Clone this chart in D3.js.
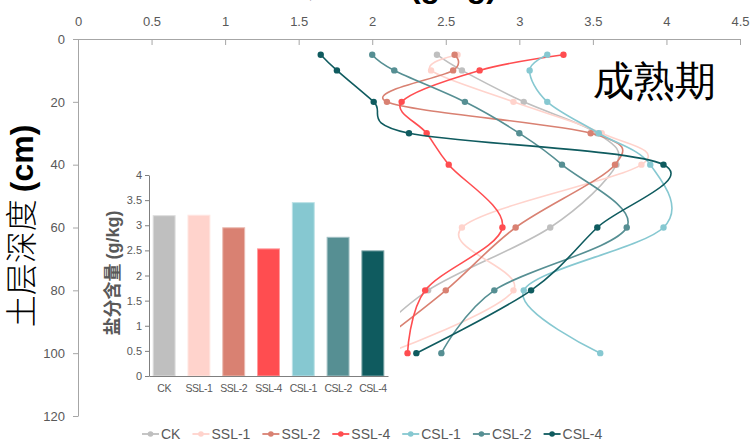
<!DOCTYPE html>
<html>
<head>
<meta charset="utf-8">
<script src="https://cdn.jsdelivr.net/npm/d3@7"></script>
<style>
  body { margin: 0; background: #fff; }
  text { font-family: "Liberation Sans", Arial, sans-serif; }
</style>
</head>
<body>
<svg id="chart" width="756" height="440"></svg>
<script>
// Soil depth of each sampling layer (cm)
const depths = [5, 10, 20, 30, 40, 60, 80, 100];

// Salt content (g/kg) per treatment at each depth
const ck   = [2.44, 2.61, 3.03, 3.53, 3.66, 3.21, 2.38, 1.90];
const ssl1 = [2.58, 2.40, 2.96, 3.56, 3.83, 2.61, 2.96, 2.10];
const ssl2 = [2.56, 2.55, 2.10, 3.485, 3.65, 2.975, 2.50, 1.95];
const ssl4 = [3.30, 2.73, 2.20, 2.37, 2.52, 2.885, 2.36, 2.24];
const csl1 = [3.19, 3.07, 3.19, 3.54, 3.89, 3.98, 3.03, 3.55];
const csl2 = [2.00, 2.15, 2.63, 3.00, 3.29, 3.73, 2.83, 2.47];
const csl4 = [1.65, 1.76, 2.01, 2.25, 3.98, 3.53, 3.08, 2.30];

const seriesNames  = ["CK", "SSL-1", "SSL-2", "SSL-4", "CSL-1", "CSL-2", "CSL-4"];
const seriesColors = ["#bfbfbf", "#ffd3cc", "#d98172", "#ff4d50", "#86c8d1", "#568f93", "#0f5b5f"];

// Mean salt content of the profile (g/kg) for the inset bars
const barValues = [3.19, 3.20, 2.95, 2.53, 3.45, 2.76, 2.49];

const xTicks   = [0, 0.5, 1, 1.5, 2, 2.5, 3, 3.5, 4, 4.5];
const yTicks   = [0, 20, 40, 60, 80, 100, 120];
const barTicks = [0, 0.5, 1, 1.5, 2, 2.5, 3, 3.5, 4];

const seriesValues = [ck, ssl1, ssl2, ssl4, csl1, csl2, csl4];
const series = seriesNames.map((name, i) => ({
  name,
  color: seriesColors[i],
  points: depths.map((d, j) => ({ depth: d, value: seriesValues[i][j] }))
}));

const svg = d3.select("#chart");
const axisColor = "#a6a6a6";
const labelColor = "#595959";

// ---- main profile chart ----
const x = d3.scaleLinear().domain([0, 4.5]).range([78, 740]);
const y = d3.scaleLinear().domain([0, 120]).range([39, 416]);

// title above the top axis (runs past the top edge of the canvas)
const title = svg.append("text")
  .attr("x", 497).attr("y", -3)
  .attr("text-anchor", "end")
  .attr("font-size", 32)
  .attr("fill", "#000");
title.append("tspan").attr("font-family", "'Noto Sans CJK SC', sans-serif").text("盐分含量 ");
title.append("tspan").attr("font-weight", "bold").text("(g/kg)");

const lineGen = d3.line()
  .x(d => x(d.value))
  .y(d => y(d.depth))
  .curve(d3.curveCardinal.tension(0));

const gSeries = svg.append("g");
series.forEach(s => {
  const g = gSeries.append("g");
  g.append("path")
    .attr("d", lineGen(s.points))
    .attr("fill", "none")
    .attr("stroke", s.color)
    .attr("stroke-width", 1.6);
  g.selectAll("circle").data(s.points).join("circle")
    .attr("cx", d => x(d.value))
    .attr("cy", d => y(d.depth))
    .attr("r", 3.2)
    .attr("fill", s.color);
});

// top value axis
const xAxis = svg.append("g")
  .attr("transform", "translate(0,39)")
  .call(d3.axisTop(x).tickValues(xTicks).tickSize(-6).tickSizeOuter(0).tickPadding(13)
    .tickFormat(d3.format("~g")));
// left depth axis
const yAxis = svg.append("g")
  .attr("transform", "translate(78,0)")
  .call(d3.axisLeft(y).tickValues(yTicks).tickSize(5).tickSizeOuter(0).tickPadding(8));

[xAxis, yAxis].forEach(a => {
  a.select(".domain").attr("stroke", axisColor);
  a.selectAll(".tick line").attr("stroke", axisColor);
  a.selectAll(".tick text").attr("fill", labelColor).attr("font-size", 13)
    .attr("font-family", "'Liberation Sans', Arial, sans-serif");
});

// depth axis title
const yTitle = svg.append("text")
  .attr("transform", "translate(33,226) rotate(-90)")
  .attr("text-anchor", "middle")
  .attr("font-size", 32)
  .attr("fill", "#000");
yTitle.append("tspan").attr("font-family", "'Noto Sans CJK SC', sans-serif").attr("font-weight", 300).text("土层深度 ");
yTitle.append("tspan").attr("font-weight", "bold").text("(cm)");

// growth stage label
svg.append("text")
  .attr("x", 654).attr("y", 95)
  .attr("text-anchor", "middle")
  .attr("font-family", "'Noto Sans CJK SC', sans-serif")
  .attr("font-size", 41)
  .attr("fill", "#000")
  .text("成熟期");

// ---- inset bar chart ----
const inset = svg.append("g");
inset.append("rect")
  .attr("x", 92).attr("y", 160).attr("width", 308).attr("height", 242)
  .attr("fill", "#fff");

const xb = d3.scaleBand().domain(seriesNames).range([149, 388])
  .paddingInner(0.37).paddingOuter(0.12);
const yb = d3.scaleLinear().domain([0, 4]).range([376, 175]);

inset.selectAll("rect.bar").data(seriesNames).join("rect")
  .attr("class", "bar")
  .attr("x", d => xb(d))
  .attr("width", xb.bandwidth())
  .attr("y", (d, i) => yb(barValues[i]))
  .attr("height", (d, i) => yb(0) - yb(barValues[i]))
  .attr("fill", (d, i) => seriesColors[i])
  .attr("stroke", (d, i) => d3.interpolateRgb(seriesColors[i], "#ffffff")(0.45))
  .attr("stroke-width", 1);

const ybAxis = inset.append("g")
  .attr("transform", "translate(149,0)")
  .call(d3.axisLeft(yb).tickValues(barTicks).tickSize(4).tickSizeOuter(0).tickPadding(3)
    .tickFormat(d3.format("~g")));
const xbAxis = inset.append("g")
  .attr("transform", "translate(0,376)")
  .call(d3.axisBottom(xb).tickSize(0).tickPadding(9));

[ybAxis, xbAxis].forEach(a => {
  a.select(".domain").attr("stroke", "#7f7f7f");
  a.selectAll(".tick line").attr("stroke", "#7f7f7f");
  a.selectAll(".tick text").attr("fill", labelColor).attr("font-size", 11);
});
xbAxis.selectAll(".tick text").attr("font-size", 10.5).attr("letter-spacing", "-0.5px");

const ybTitle = inset.append("text")
  .attr("transform", "translate(119,273) rotate(-90)")
  .attr("text-anchor", "middle")
  .attr("font-size", 18)
  .attr("font-weight", "bold")
  .attr("fill", labelColor);
ybTitle.append("tspan").attr("font-family", "'Noto Sans CJK SC', sans-serif").text("盐分含量 ");
ybTitle.append("tspan").text("(g/kg)");

// ---- legend ----
const legend = svg.append("g").attr("transform", "translate(0,434)");
let lx = 142;
series.forEach(s => {
  const item = legend.append("g").attr("transform", `translate(${lx},0)`);
  item.append("line").attr("x1", 0).attr("x2", 17).attr("y1", 0).attr("y2", 0)
    .attr("stroke", s.color).attr("stroke-width", 1.8);
  item.append("circle").attr("cx", 8.5).attr("cy", 0).attr("r", 2.8).attr("fill", s.color);
  const t = item.append("text").attr("x", 19).attr("y", 0).attr("dy", "0.35em")
    .attr("font-size", 14).attr("fill", labelColor).text(s.name);
  lx += 19 + t.node().getComputedTextLength() + 12;
});
</script>
</body>
</html>
